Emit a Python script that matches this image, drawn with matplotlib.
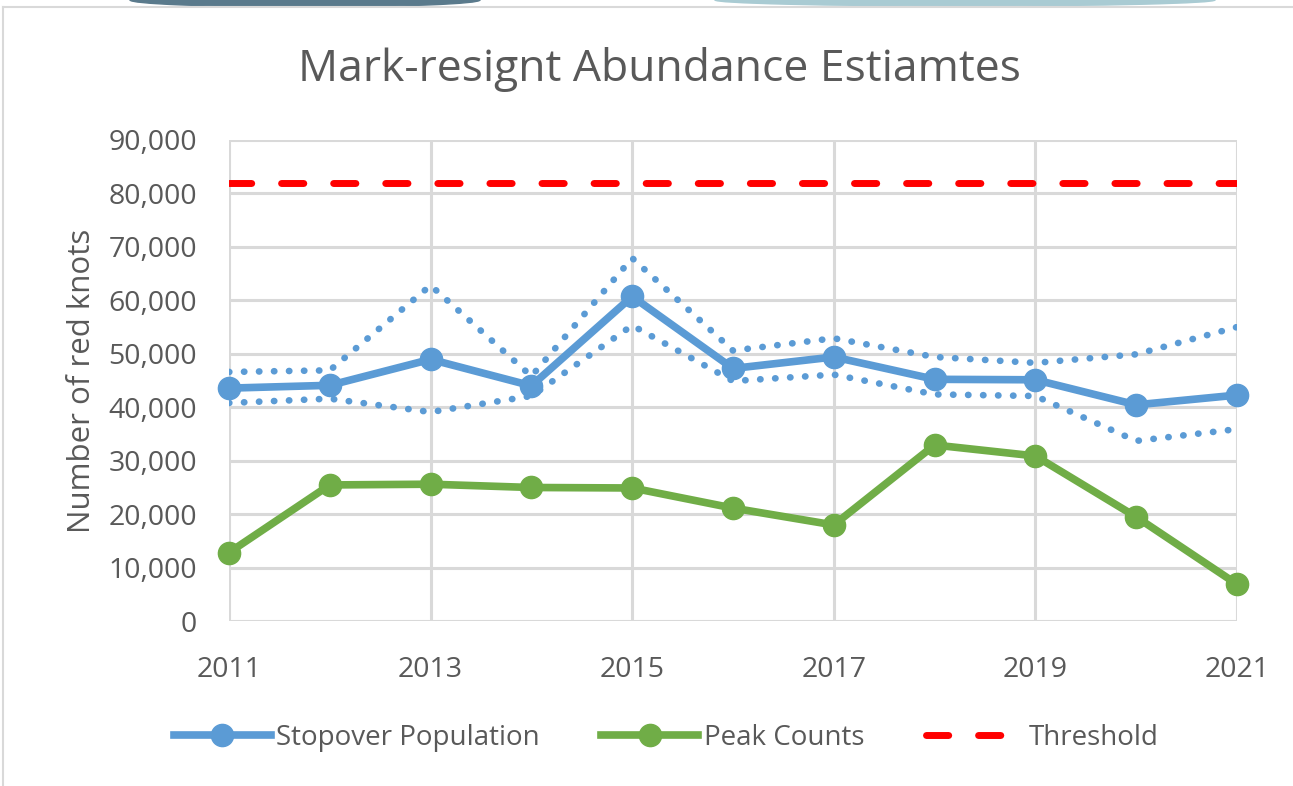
import matplotlib
matplotlib.use("Agg")
import matplotlib.pyplot as plt
from matplotlib.patches import Ellipse
from matplotlib.lines import Line2D
from matplotlib.ticker import FuncFormatter

plt.rcParams['font.family'] = ['Open Sans', 'DejaVu Sans']

years = [2011, 2012, 2013, 2014, 2015, 2016, 2017, 2018, 2019, 2020, 2021]
stopover = [43570, 44100, 48955, 44010, 60727, 47254, 49405, 45221, 45133, 40444, 42271]
upper_ci = [46600, 46900, 62800, 45800, 67900, 50600, 52900, 49400, 48300, 49900, 55000]
lower_ci = [40800, 41600, 39100, 42100, 55300, 44900, 46100, 42400, 42100, 33700, 35900]
peak_counts = [12804, 25458, 25596, 24980, 24890, 21128, 17969, 32930, 30880, 19475, 6880]
threshold = 82000

blue = '#5B9BD5'
green = '#70AD47'
red = '#FF0000'
txt = '#595959'
grid_c = '#D9D9D9'

fig = plt.figure(figsize=(12.93, 7.86), dpi=100)
ax = fig.add_axes([229/1293, 1-621/786, (1237-229)/1293, (621-140)/786])

# dotted confidence bounds
dot_kw = dict(color=blue, lw=4.8, ls=(0, (0.05, 2.2)), dash_capstyle='round', zorder=3)
ax.plot(years, upper_ci, **dot_kw)
ax.plot(years, lower_ci, **dot_kw)

dash = (0, (3.2, 4.3))
ax.plot([years[0], years[-1]], [threshold, threshold], color=red, lw=5,
        ls=dash, dash_capstyle='round', zorder=3)
ax.plot(years, stopover, color=blue, lw=5.5, marker='o', ms=16, zorder=4,
        clip_on=False)
ax.plot(years, peak_counts, color=green, lw=5.5, marker='o', ms=16, zorder=4,
        clip_on=False)

ax.set_xlim(years[0], years[-1])
ax.set_ylim(0, 90000)
ax.set_yticks(range(0, 90001, 10000))
ax.set_xticks(years[::2])
ax.yaxis.set_major_formatter(FuncFormatter(lambda v, p: '{:,.0f}'.format(v)))
ax.grid(True, color=grid_c, lw=2.2, zorder=0)
for s in ax.spines.values():
    s.set_visible(False)
ax.tick_params(length=0, labelsize=20.5, labelcolor=txt)
ax.tick_params(axis='y', pad=23)
ax.tick_params(axis='x', pad=25)
ax.set_ylabel('Number of red knots', fontsize=22.5, color=txt, labelpad=8)

fig.text(0.51, 0.912, 'Mark-resignt Abundance Estiamtes', fontsize=32,
         color=txt, ha='center', va='center')

handles = [
    Line2D([], [], color=blue, lw=5.5, marker='o', ms=16),
    Line2D([], [], color=green, lw=5.5, marker='o', ms=16),
    Line2D([], [], color=red, lw=5, ls=dash, dash_capstyle='round'),
]
fig.legend(handles, ['Stopover Population', 'Peak Counts', 'Threshold'],
           loc='center', bbox_to_anchor=(0.515, 1-738/786), ncol=3, frameon=False,
           fontsize=20, labelcolor=txt, handlelength=3.5, handletextpad=0.2,
           columnspacing=2.2)

# outer frame and decorative shapes at the top
fig.add_artist(Line2D([3/1293, 3/1293], [0, 1-7/786], color='#D9D9D9', lw=1.5,
                      transform=fig.transFigure))
fig.add_artist(Line2D([3/1293, 1], [1-7/786, 1-7/786], color='#D9D9D9', lw=1.5,
                      transform=fig.transFigure))
fig.add_artist(Ellipse((305/1293, 1.0), 350/1293, 14/786, color='#5A7A8C',
                       transform=fig.transFigure))
fig.add_artist(Ellipse((965/1293, 1.0), 500/1293, 12/786, color='#A9CBD3',
                       transform=fig.transFigure))

fig.savefig('out.png', dpi=100)
